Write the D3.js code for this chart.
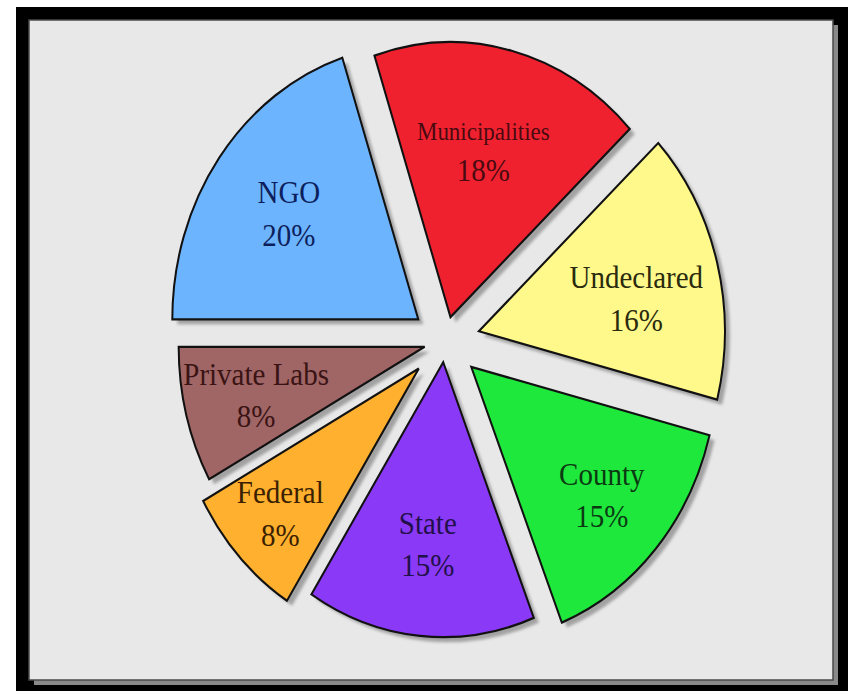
<!DOCTYPE html>
<html>
<head>
<meta charset="utf-8">
<script src="https://cdn.jsdelivr.net/npm/d3@7"></script>
<style>
  html, body { margin: 0; padding: 0; background: #ffffff; }
  svg { display: block; }
</style>
</head>
<body>
<svg id="chart" width="848" height="691"></svg>
<script>
// Share of laboratories by owner type
const categories = ["NGO", "Municipalities", "Undeclared", "County", "State", "Federal", "Private Labs"];
const shares = [20, 18, 16, 15, 15, 8, 8];

// styling per slice
const fillColors = ["#6db4ff", "#f0212f", "#fff98c", "#1ee83c", "#8a3af6", "#ffb02e", "#a06565"];
const textColors = ["#0c1f5c", "#4a0a10", "#2a2a0c", "#0b3a12", "#22104a", "#3a1f00", "#3a1414"];
const pullOut = [33, 22, 35, 35, 19, 36, 21];
const labelDist = [160, 153, 160, 174, 164, 190, 174];
const labelTurn = [0, -2, 4, 0, 0, 0, 0]; // degrees, nudges a label around its slice

const W = 848, H = 691;
const svg = d3.select("#chart");

// Outer dark frame and light panel with a drop shadow
svg.append("rect").attr("x", 16).attr("y", 7).attr("width", W - 16).attr("height", H - 7).attr("fill", "#000");
svg.append("rect").attr("x", 34).attr("y", 25).attr("width", 804).attr("height", 660).attr("fill", "#8a8a8a");
svg.append("rect").attr("x", 29).attr("y", 20).attr("width", 804).attr("height", 660)
  .attr("fill", "#e8e8e8").attr("stroke", "#4a4a4a").attr("stroke-width", 1.5);

const defs = svg.append("defs");
const blur = defs.append("filter").attr("id", "soft").attr("x", "-20%").attr("y", "-20%")
  .attr("width", "140%").attr("height", "140%");
blur.append("feGaussianBlur").attr("stdDeviation", 1.6);

// The pie is drawn as a circle and stretched vertically into an upright ellipse
const radius = 246;
const stretch = 1.118;
const g = svg.append("g").attr("transform", `translate(445,341) scale(1,${stretch})`);

const pie = d3.pie().sort(null).value(d => d.value)
  .startAngle(-Math.PI / 2).endAngle(1.5 * Math.PI);
const arc = d3.arc().innerRadius(0).outerRadius(radius);
const data = pie(categories.map((c, i) => ({ name: c, value: shares[i], i })));

function offset(d, r, turnDeg = 0) {
  const a = (d.startAngle + d.endAngle) / 2 + turnDeg * Math.PI / 180;
  return [Math.sin(a) * r, -Math.cos(a) * r];
}

const slices = g.selectAll("g.slice").data(data).join("g")
  .attr("class", "slice")
  .attr("transform", d => { const [x, y] = offset(d, pullOut[d.data.i]); return `translate(${x},${y})`; });

// soft grey shadow behind each slice
slices.append("path")
  .attr("d", arc)
  .attr("transform", `translate(5,${5 / stretch})`)
  .attr("fill", "#a2a2a2")
  .attr("filter", "url(#soft)");

slices.append("path")
  .attr("d", arc)
  .attr("fill", d => fillColors[d.data.i])
  .attr("stroke", "#111")
  .attr("stroke-width", 2)
  .attr("stroke-linejoin", "miter");

// labels: name on the first line, percentage on the second
const labels = slices.append("g")
  .attr("transform", d => {
    const [x, y] = offset(d, labelDist[d.data.i], labelTurn[d.data.i]);
    return `translate(${x},${y})`;
  })
  .attr("font-family", "'Liberation Serif', 'Times New Roman', serif")
  .attr("text-anchor", "middle")
  .attr("fill", d => textColors[d.data.i]);

labels.append("text")
  .attr("y", d => d.data.name.length > 12 ? -17 : -19)
  .attr("dominant-baseline", "central")
  .attr("font-size", d => d.data.name.length > 12 ? 23 : 29)
  .text(d => d.data.name);

labels.append("text")
  .attr("y", d => d.data.name.length > 12 ? 18 : 19)
  .attr("dominant-baseline", "central")
  .attr("font-size", 29)
  .text(d => d.data.value + "%");
</script>
</body>
</html>
